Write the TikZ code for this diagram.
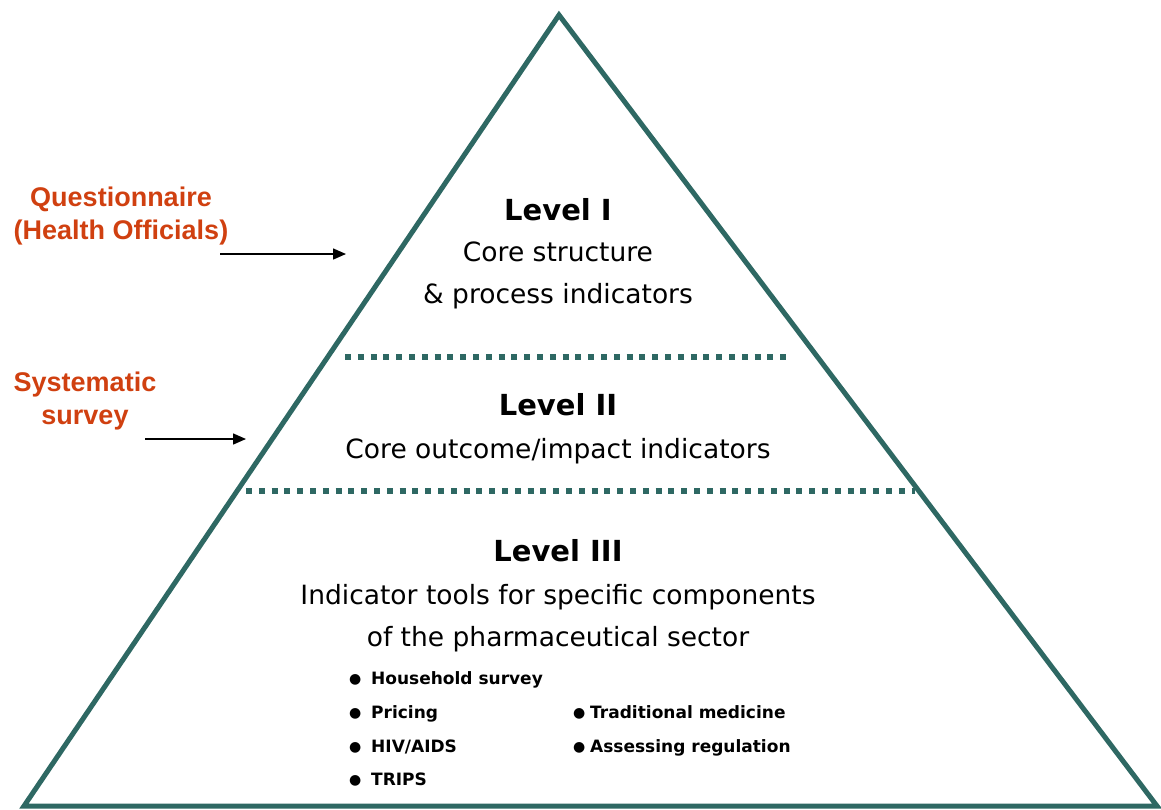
\documentclass[tikz,border=0pt]{standalone}
\usepackage{fontspec}
\setmainfont{DejaVu Sans}
\newfontfamily\labelfont{Liberation Sans}
\usetikzlibrary{arrows.meta, positioning}
\definecolor{pyrteal}{RGB}{46,104,99}
\definecolor{srcred}{RGB}{208,64,16}
% bullet dot with a given space after it
\newcommand{\tooldot}[1]{\makebox[#1][l]{\fontsize{14}{14}\selectfont\raisebox{0.5pt}{●}}}

\begin{document}
\begin{tikzpicture}[x=1pt, y=-1pt, >={Triangle[length=13pt, width=11pt]},
        head/.style={font=\fontsize{29}{34}\selectfont\bfseries, inner sep=0pt},
        body/.style={font=\fontsize{26.5}{42}\selectfont, align=center, inner sep=0pt},
        item/.style={font=\fontsize{17}{20}\selectfont\bfseries, anchor=base west, inner sep=0pt},
        src/.style={font=\labelfont\fontsize{27}{33}\selectfont\bfseries, text=srcred, align=center, inner sep=0pt},
        divider/.style={draw=pyrteal, line width=6pt, dash pattern=on 6pt off 6.8pt},
        feed/.style={->, line width=1.5pt}]

    \useasboundingbox (0,0) rectangle (1161,809);

    % pyramid outline
    \coordinate (top) at (559,15);
    \coordinate (bl) at (24,806);
    \coordinate (br) at (1157,806);
    \draw[pyrteal, line width=5pt, line join=miter] (top) -- (br) -- (bl) -- cycle;

    % dotted dividers between the levels
    \coordinate (d1a) at (345,357);
    \coordinate (d1b) at (790,357);
    \coordinate (d2a) at (246,491);
    \coordinate (d2b) at (915,491);
    \draw[divider] (d1a) -- (d1b);
    \draw[divider] (d2a) -- (d2b);

    % level texts
    \node (lvl1) [head] at (558,210) {Level I};
    \node (lvl1txt) [body, below=20pt of lvl1] {Core structure\\ \& process indicators};
    \node (lvl2) [head] at (558,405) {Level II};
    \node (lvl2txt) [body, below=22pt of lvl2] {Core outcome/impact indicators};
    \node (lvl3) [head] at (558,551) {Level III};
    \node (lvl3txt) [body, below=22pt of lvl3] {Indicator tools for specific components\\ of the pharmaceutical sector};

    % tool list
    \node (hh) [item] at (349,684) {\tooldot{22pt}Household survey};
    \node (price) [item] at (349,718) {\tooldot{22pt}Pricing};
    \node (hiv) [item] at (349,752) {\tooldot{22pt}HIV/AIDS};
    \node (trips) [item] at (349,785) {\tooldot{22pt}TRIPS};
    \node (trad) [item] at (573,718) {\tooldot{17pt}Traditional medicine};
    \node (reg) [item] at (573,752) {\tooldot{17pt}Assessing regulation};

    % data sources
    \node (quest) [src] at (121,216) {Questionnaire\\(Health Officials)};
    \node (survey) [src] at (85,401) {Systematic\\survey};
    \coordinate (q1a) at (220,254);
    \coordinate (q1b) at (346,254);
    \coordinate (s1a) at (145,439);
    \coordinate (s1b) at (246,439);
    \draw[feed] (q1a) -- (q1b);
    \draw[feed] (s1a) -- (s1b);
\end{tikzpicture}
\end{document}
